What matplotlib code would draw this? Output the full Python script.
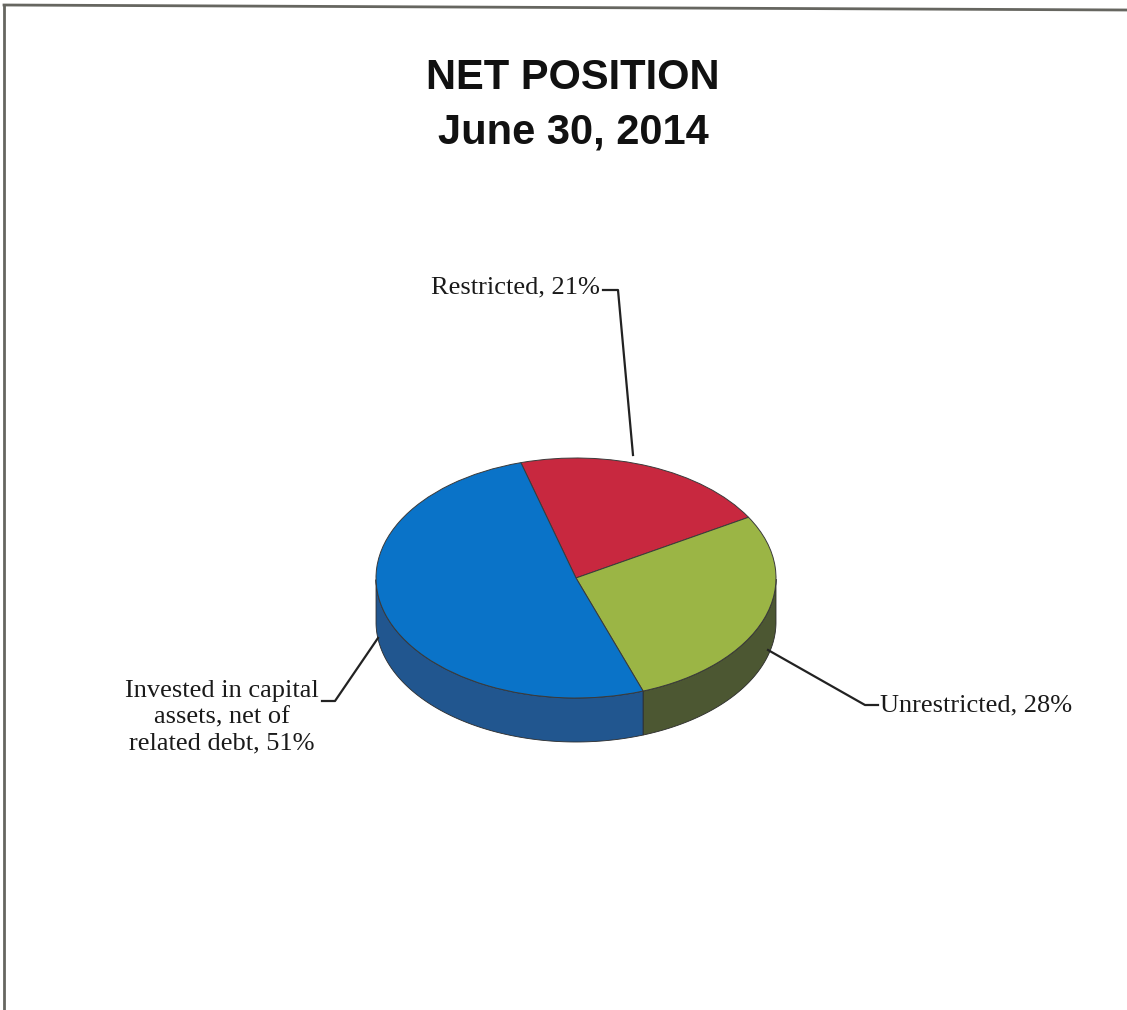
import matplotlib
matplotlib.use("Agg")
import matplotlib.pyplot as plt
import numpy as np
from matplotlib.patches import Polygon
from matplotlib.transforms import Affine2D
from matplotlib.lines import Line2D

labels = ["Restricted", "Unrestricted", "Invested in capital\nassets, net of\nrelated debt"]
shares = [21, 28, 51]
top_colors = ["#c8283f", "#9bb545", "#0a73c8"]
side_colors = ["#7a1a26", "#4c5732", "#21568f"]

W, H = 1127, 1010
fig = plt.figure(figsize=(W / 100, H / 100), dpi=100)
ax = fig.add_axes([0, 0, 1, 1])

cx, cy = 576, H - 578
rx, ry = 200, 120
depth = 44
start = 106
k = ry / rx

# side walls (front half only)
fr = np.array(shares) / sum(shares)
edges = start - np.concatenate([[0], np.cumsum(fr)]) * 360
for i in range(len(shares)):
    a_hi, a_lo = edges[i], edges[i + 1]
    t = np.linspace(a_lo, a_hi, 200)
    t = t[np.sin(np.radians(t)) <= 0]
    if len(t) < 2:
        continue
    xs = cx + rx * np.cos(np.radians(t))
    ys = cy + ry * np.sin(np.radians(t))
    pts = np.vstack([np.column_stack([xs, ys]),
                     np.column_stack([xs[::-1], ys[::-1] - depth])])
    ax.add_patch(Polygon(pts, closed=True, facecolor=side_colors[i],
                         edgecolor="#2b2b2b", linewidth=0.6, zorder=1))

wedges, _ = ax.pie(shares, colors=top_colors, startangle=start, counterclock=False,
                   radius=rx, center=(cx, cy), frame=True,
                   wedgeprops=dict(edgecolor="#3a3a3a", linewidth=0.7))
squash = Affine2D().translate(-cx, -cy).scale(1, k).translate(cx, cy) + ax.transData
for w in wedges:
    w.set_transform(squash)
    w.set_zorder(2)

ax.set_xlim(0, W)
ax.set_ylim(0, H)
ax.set_aspect("auto")
ax.axis("off")

# leader lines
lc = dict(color="#222222", linewidth=1.6, zorder=3)
ax.plot([603, 618, 633], [H - 290, H - 290, H - 455], **lc)
ax.plot([768, 865, 878], [H - 650, H - 705, H - 705], **lc)
ax.plot([378, 335, 322], [H - 638, H - 701, H - 701], **lc)

serif = dict(family="Liberation Serif", fontsize=19, color="#1a1a1a")
ax.text(600, H - 287, f"{labels[0]}, {shares[0]}%", ha="right", va="center", **serif)
ax.text(880, H - 705, f"{labels[1]}, {shares[1]}%", ha="left", va="center", **serif)
ax.text(222, H - 717, f"{labels[2]}, {shares[2]}%", ha="center", va="center",
        linespacing=1.25, **serif)

title = dict(family="Liberation Sans", fontweight="bold", fontsize=30, color="#111111",
             ha="center", va="center")
ax.text(573, H - 78, "NET POSITION", **title)
ax.text(573, H - 133, "June 30, 2014", **title)

# scanned border
fig.add_artist(Line2D([4 / W, 4 / W], [0, 1 - 5 / H], color="#666660", linewidth=2,
                      transform=fig.transFigure))
fig.add_artist(Line2D([4 / W, 1], [1 - 5 / H, 1 - 10 / H], color="#666660", linewidth=2,
                      transform=fig.transFigure))

fig.savefig("out.png", dpi=100, facecolor="white")
